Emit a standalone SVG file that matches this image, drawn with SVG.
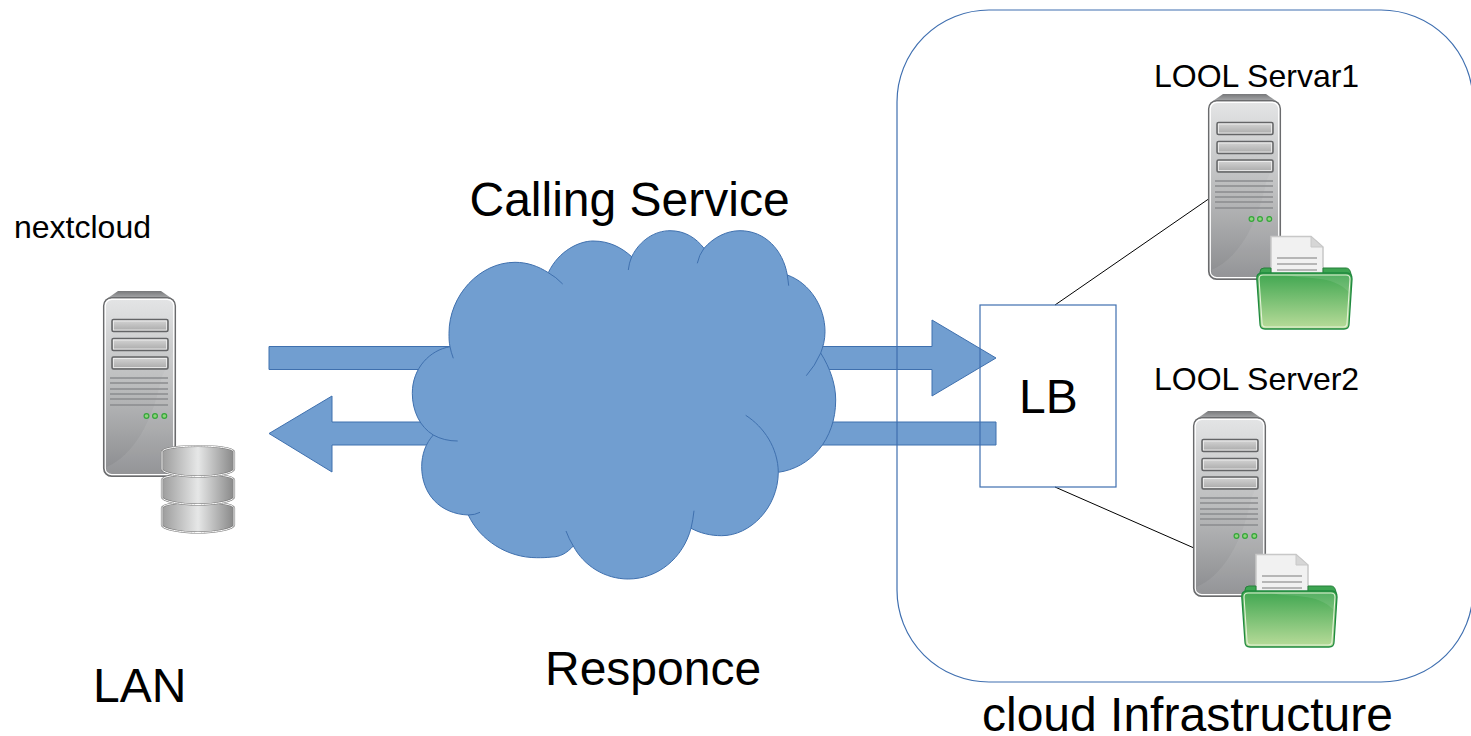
<svg xmlns="http://www.w3.org/2000/svg" xmlns:xlink="http://www.w3.org/1999/xlink" width="1471" height="736" viewBox="0 0 1471 736">
<style>
text{font-family:"Liberation Sans",Arial,sans-serif;fill:#000}
.s{font-size:32px}.l{font-size:48px}
.blue{fill:#719ed0;stroke:#3f70ae;stroke-width:1}
.cloud{fill:#719ed0;stroke:#3f70ae;stroke-width:1}
.inner{fill:none;stroke:#3f70ae;stroke-width:1}
.frame{fill:none;stroke:#3f6fb0;stroke-width:1.200}
.conn{stroke:#000;stroke-width:1;fill:none}
</style>
<defs>
<linearGradient id="body" x1="0" y1="0" x2="0" y2="1"><stop offset="0" stop-color="#e4e5e6"/><stop offset=".55" stop-color="#b6b7b8"/><stop offset="1" stop-color="#8a8b8e"/></linearGradient>
<linearGradient id="cap" x1="0" y1="0" x2="0" y2="1"><stop offset="0" stop-color="#77787a"/><stop offset="1" stop-color="#b5b6b8"/></linearGradient>
<linearGradient id="bay" x1="0" y1="0" x2="0" y2="1"><stop offset="0" stop-color="#d6d6d6"/><stop offset="1" stop-color="#a8a8a8"/></linearGradient>
<linearGradient id="disk" x1="0" y1="0" x2="1" y2="0"><stop offset="0" stop-color="#9c9c9c"/><stop offset=".5" stop-color="#e6e7e7"/><stop offset="1" stop-color="#888"/></linearGradient>
<linearGradient id="folder" x1="0" y1="0" x2="0" y2="1"><stop offset="0" stop-color="#3fa650"/><stop offset="1" stop-color="#b9dc9a"/></linearGradient>
<g id="tower">
<path d="M15 0H58L71 9H2Z" fill="url(#cap)"/>
<rect x="0.700" y="6.700" width="71.600" height="178.600" rx="8" fill="url(#body)" stroke="#6a6b6d" stroke-width="1.500"/>
<rect x="2.300" y="8.300" width="68.400" height="175.400" rx="6.500" fill="none" stroke="#fff" stroke-width="1.200"/>
<path d="M3.500 176C30 165 50 130 58 88L70 60V178Q70 183 65 183H9Q4 183 3.500 176Z" fill="#fff" fill-opacity=".08"/>
<g fill="url(#bay)" stroke="#646567" stroke-width="1.500">
<rect x="9" y="28.500" width="56" height="12" rx="1.500"/>
<rect x="9" y="47.500" width="56" height="12" rx="1.500"/>
<rect x="9" y="66" width="56" height="12" rx="1.500"/>
</g>
<g fill="none" stroke="#f2f2f2" stroke-width=".8">
<rect x="10.500" y="30" width="53" height="9"/>
<rect x="10.500" y="49" width="53" height="9"/>
<rect x="10.500" y="67.500" width="53" height="9"/>
</g>
<path d="M7 87H65M7 92H65M7 98H65M7 103H65M7 108H65M7 114H65" stroke="#8b8c8e" stroke-width="1.300"/>
<g fill="#8fd47c" stroke="#35a53c" stroke-width="1.200">
<circle cx="43.500" cy="125" r="2.400"/><circle cx="52" cy="125" r="2.400"/><circle cx="61.300" cy="125" r="2.400"/>
</g>
</g>
<g id="docfolder">
<path d="M15 2.500H55L67 13V42H15Z" fill="#f1f1f1" stroke="#c8c8c8" stroke-width="1.500"/>
<path d="M55 2.500V13H67Z" fill="#d6d6d6" stroke="#c8c8c8" stroke-width="1"/>
<path d="M21 24H61M21 30H61M21 36H61" stroke="#7d7d7d" stroke-width="1.200"/>
<path d="M4 38Q4 34 8 34H15V40H67V34H90Q94 34 95 40V44H4Z" fill="#3da552" stroke="#26803b"/>
<path d="M0.800 45Q0.500 39 6 39H91Q96 39 96 45L93 90Q93 95 88 95H9Q4 95 4 90Z" fill="url(#folder)" stroke="#1f8a3f" stroke-width="1.300"/>
<path d="M30 41H90Q94 41 94 45L93 58C75 40 50 46 30 41Z" fill="#fff" fill-opacity=".1"/>
<path d="M3 45Q3 41 7 41H90Q94 41 94 45L91 89Q91 93 87 93H10Q6 93 6 89Z" fill="none" stroke="#e4f2d8" stroke-width="1.100"/>
</g>
<g id="cyl">
<path d="M1 7C1 3 20 1 37 1S73 3 73 7V24C73 28 55 31.500 37 31.500S1 28 1 24Z" fill="url(#disk)" stroke="#777" stroke-width="2.200"/>
<path d="M1 7C1 3 20 1 37 1S73 3 73 7V24C73 28 55 31.500 37 31.500S1 28 1 24Z" fill="none" stroke="#fff" stroke-width="1"/>
</g>
</defs>
<g id="connectors">
<path class="conn" d="M1055 305L1210 198"/>
<path class="conn" d="M1055 487L1194 548"/>
</g>
<g id="arrow-call"><path class="blue" d="M269 346.500H932V320L996 358L932 396V369.500H269Z"/></g>
<g id="arrow-resp"><path class="blue" d="M996 422H332V396L269 433.500L332 472V445H996Z"/></g>
<g id="cloud">
<path class="cloud" d="M548.300 272.700C559 250 580 241 593 241C610 241 622 248 631.700 256.700C640 240 655 230.700 670 230.700C685 230.700 696 238 704 248.300C714 237 727 230.700 740 230.700C765 230.700 783 250 787.300 275C810 283 825 307 825 331.700C825 340 823 347 820.700 353C830 368 835.700 384 835.700 400C835.700 440 810 468 778.300 472.300C778 508 750 535.700 721.700 535.700C710 535.700 700 533 691 528.300C683 558 658 579 628.300 579C605 579 584 566 573.300 546C567 553 560 557 552 557C546 557.700 542 557.700 536.700 557.700C507 557.700 480 540 468.300 515C440 514 421.700 494 421.700 466.700C421.700 454 426 443 433.300 435C420 427 412.300 411 412.300 393.300C412.300 368 430 350 450 346.700C449 342 449 338 449 333.300C449 295 480 262.300 515 262.300C527 262.300 538 266 548.300 272.700Z"/>
<path class="inner" d="M548.300 272.700Q556 277 562.700 284M631.700 256.700Q629 263 628.300 270M704 248.300Q699 255 697.300 263.300M787.300 275Q788 280 788.700 285.700M820.700 353Q815 366 806.300 375.700M778.300 472.300C778 448 764 427 745.700 415.300M691 528.300Q693 520 694 510.700M573.300 546Q569 539 566 531M468.300 515Q475 515 480 512.300M433.300 435Q444 441 457.700 441M450 346.700Q451 352 453.300 358.300"/>
</g>
<g id="infrastructure"><rect class="frame" x="897" y="10" width="576" height="672" rx="92"/></g>
<g id="lb">
<rect class="frame" x="980" y="305" width="136" height="182"/>
<text class="l" x="1019" y="413">LB</text>
</g>
<g id="nextcloud">
<text class="s" x="14" y="238">nextcloud</text>
<use xlink:href="#tower" href="#tower" x="103" y="291"/>
<use xlink:href="#cyl" href="#cyl" x="161" y="501"/>
<use xlink:href="#cyl" href="#cyl" x="161" y="473"/>
<use xlink:href="#cyl" href="#cyl" x="161" y="445"/>
</g>
<g id="lool1">
<text class="s" x="1154" y="87">LOOL Servar1</text>
<use xlink:href="#tower" href="#tower" x="1208" y="94"/>
<use xlink:href="#docfolder" href="#docfolder" x="1256" y="234"/>
</g>
<g id="lool2">
<text class="s" x="1154" y="390">LOOL Server2</text>
<use xlink:href="#tower" href="#tower" x="1193" y="411"/>
<use xlink:href="#docfolder" href="#docfolder" x="1241" y="552"/>
</g>
<g id="labels">
<text class="l" x="469.500" y="216">Calling Service</text>
<text class="l" x="93" y="702">LAN</text>
<text class="l" x="545" y="685">Responce</text>
<text class="l" x="982" y="731">cloud Infrastructure</text>
</g>
</svg>
